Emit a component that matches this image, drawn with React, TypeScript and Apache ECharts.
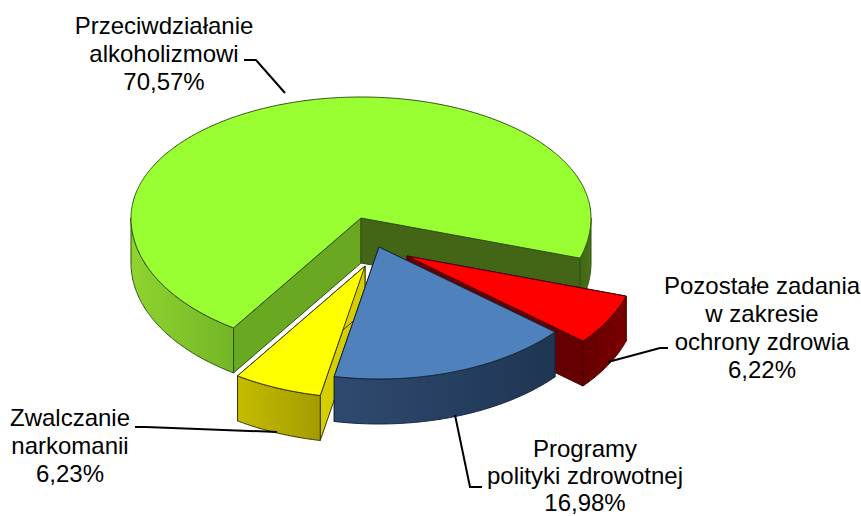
import React, { useEffect, useRef } from "react";
import * as echarts from "echarts";

// Data, clockwise from the red slice
const sliceNames = ["Pozostałe zadania\nw zakresie\nochrony zdrowia", "Programy\npolityki zdrowotnej", "Zwalczanie\nnarkomanii", "Przeciwdziałanie\nalkoholizmowi"];
const sliceValues = [6.22, 16.98, 6.23, 70.57];
const valueLabels = ["6,22%", "16,98%", "6,23%", "70,57%"];

// Paint order: green, yellow, red, blue
const paintOrder = [3, 2, 0, 1];

// Style / layout
const START_ANGLE = 17.7;
const CX = 361, CY = 218, RX = 230, RY_BACK = 121, RY_FRONT = 132, DEPTH = 45;
const explode = [[46, 38], [18, 29], [4, 48], [0, 0]];
const sliceStyles = [
  { top: "#ff0000", line: "#4a0000", wall: ["#660000", "#7a0000"], startFace: "#660000", endFace: "#660000" },
  { top: "#4f81bd", line: "#16263c", wall: ["#2f4a70", "#1f3552"], startFace: "#1f3552", endFace: "#1f3552" },
  { top: "#ffff00", line: "#3a3600", wall: ["#c4bc00", "#a39c00"], startFace: "#d6cf00", endFace: "#d6cf00" },
  { top: "#99ff33", line: "#2f5010", wall: ["#8fd42f", "#74b526"], startFace: "#6aa822", endFace: "#426615" },
];
const greenRightWall = ["#426615", "#4a7318"];
const labelBoxes = [
  { x: 762, y: 271, lineHeight: 28 },
  { x: 585, y: 435, lineHeight: 27 },
  { x: 70, y: 403, lineHeight: 28 },
  { x: 164, y: 11, lineHeight: 28 },
];
const leaders = [
  [[668, 348], [660, 348], [608, 362]],
  [[482, 487], [470, 487], [455, 415]],
  [[135, 427], [146, 427], [277, 432]],
  [[244, 60], [256, 60], [285, 93]],
];

const total = sliceValues.reduce((a, b) => a + b, 0);
const rad = (d: number) => (d * Math.PI) / 180;

function ringPoint(i: number, deg: number, dy = 0): number[] {
  const s = Math.sin(rad(deg));
  const ry = s > 0 ? RY_FRONT : RY_BACK;
  return [CX + explode[i][0] + RX * Math.cos(rad(deg)), CY + explode[i][1] + ry * s + dy];
}

function arc(i: number, a: number, b: number, dy = 0): number[][] {
  const pts: number[][] = [];
  const n = Math.max(2, Math.ceil((b - a) * 2));
  for (let k = 0; k <= n; k++) pts.push(ringPoint(i, a + ((b - a) * k) / n, dy));
  return pts;
}

function angleSpan(i: number): [number, number] {
  let a = START_ANGLE;
  for (let k = 0; k < i; k++) a += (sliceValues[k] / total) * 360;
  return [a, a + (sliceValues[i] / total) * 360];
}

function renderSlice(params: any, api: any) {
  const i = paintOrder[params.dataIndex];
  const st = sliceStyles[i];
  const [a0] = angleSpan(i);
  const a1 = a0 + (api.value(0) / total) * 360;
  const apex = [CX + explode[i][0], CY + explode[i][1]];
  const apexLow = [apex[0], apex[1] + DEPTH];
  const children: any[] = [];
  const poly = (points: number[][], fill: any, lineWidth = 1) => ({
    type: "polygon",
    shape: { points },
    style: { fill, stroke: st.line, lineWidth, lineJoin: "round" },
  });
  const p0 = ringPoint(i, a0), p0l = ringPoint(i, a0, DEPTH);
  const p1 = ringPoint(i, a1), p1l = ringPoint(i, a1, DEPTH);
  children.push(poly([apex, p0, p0l, apexLow], st.startFace));
  children.push(poly([apex, p1, p1l, apexLow], st.endFace));
  for (const [lo, hi] of [[0, 180], [360, 540]]) {
    const b0 = Math.max(a0, lo), b1 = Math.min(a1, hi);
    if (b1 <= b0) continue;
    const top = arc(i, b0, b1);
    const low = arc(i, b0, b1, DEPTH).reverse();
    const xs = top.map((p) => p[0]);
    const wall = lo === 360 ? greenRightWall : st.wall;
    const g = new echarts.graphic.LinearGradient(
      Math.min(...xs), 0, Math.max(...xs), 0,
      [{ offset: 0, color: wall[0] }, { offset: 1, color: wall[1] }],
      true
    );
    children.push(poly([...top, ...low], g));
  }
  children.push(poly([apex, ...arc(i, a0, a1)], st.top));
  return { type: "group", children };
}

export default function App() {
  const ref = useRef<HTMLDivElement>(null);
  useEffect(() => {
    document.body.style.margin = "0";
    const chart = echarts.init(ref.current!, null, { renderer: "svg" });
    const textFont = { fontFamily: "Liberation Sans, Arial, sans-serif", fontSize: 24, fill: "#000" };
    chart.setOption({
      animation: false,
      backgroundColor: "#ffffff",
      series: [
        {
          type: "custom",
          coordinateSystem: "none",
          silent: true,
          clip: false,
          renderItem: renderSlice,
          data: paintOrder.map((i) => ({ name: sliceNames[i], value: [sliceValues[i]] })),
        },
      ],
      graphic: [
        ...leaders.map((pts) => ({
          type: "polyline",
          z: 10,
          silent: true,
          shape: { points: pts },
          style: { stroke: "#000", lineWidth: 2, fill: "none" },
        })),
        ...sliceNames.map((name, i) => ({
          type: "text",
          z: 11,
          silent: true,
          x: labelBoxes[i].x,
          y: labelBoxes[i].y,
          style: { ...textFont, lineHeight: labelBoxes[i].lineHeight, text: `${name}\n${valueLabels[i]}`, textAlign: "center", textVerticalAlign: "top" },
        })),
      ],
    });
    return () => chart.dispose();
  }, []);
  return <div ref={ref} style={{ position: "absolute", left: 0, top: 0, width: 861, height: 516 }} />;
}
